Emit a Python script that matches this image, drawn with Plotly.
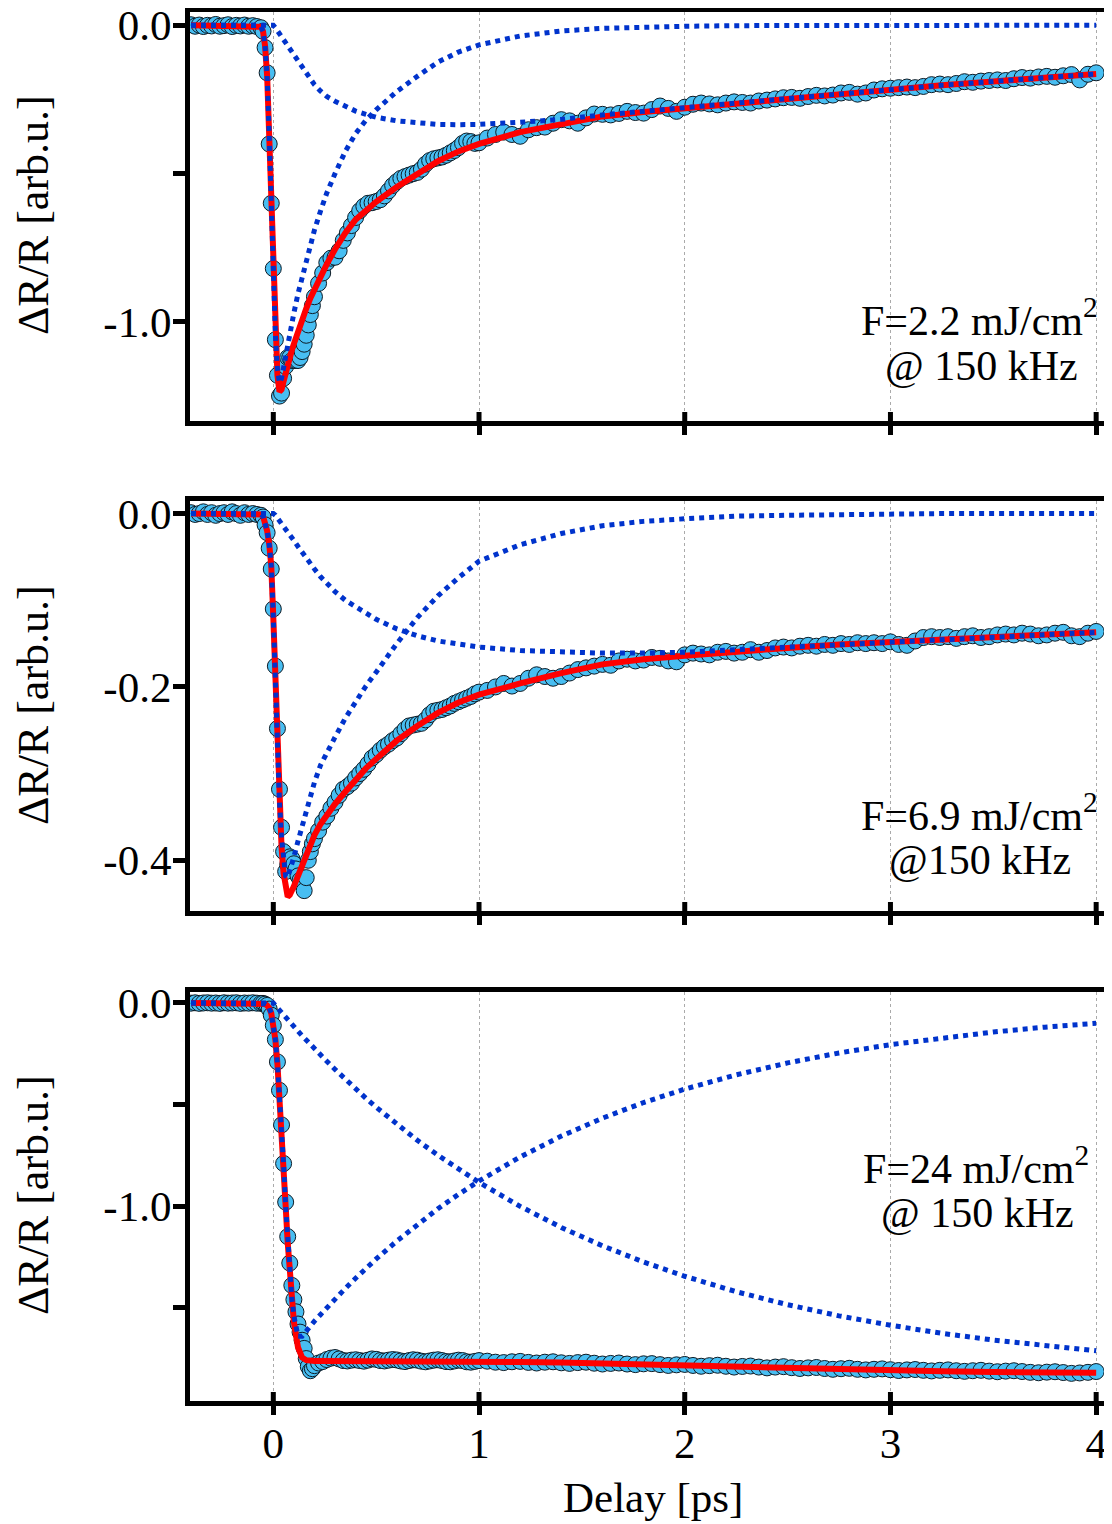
import plotly.graph_objects as go
from plotly.subplots import make_subplots

# pump-probe delay (ps) of the measured points, shared by the three panels
delay = [
    -0.40, -0.38, -0.36, -0.34, -0.32, -0.30, -0.28, -0.26, -0.24, -0.22,
    -0.20, -0.18, -0.16, -0.14, -0.12, -0.10, -0.08, -0.06,
    -0.05, -0.04, -0.03, -0.02, -0.01, 0.00, 0.01, 0.02, 0.03, 0.04,
    0.05, 0.06, 0.07, 0.08, 0.09, 0.10, 0.11, 0.12, 0.13, 0.14,
    0.15, 0.16, 0.17, 0.18, 0.19, 0.20,
    0.22, 0.24, 0.26, 0.28, 0.30, 0.32, 0.34, 0.36, 0.38, 0.40,
    0.42, 0.44, 0.46, 0.48, 0.50, 0.52, 0.54, 0.56, 0.58, 0.60,
    0.62, 0.64, 0.66, 0.68, 0.70, 0.72, 0.74, 0.76, 0.78, 0.80,
    0.82, 0.84, 0.86, 0.88, 0.90, 0.92, 0.94, 0.96, 0.98, 1.00,
    1.04, 1.08, 1.12, 1.16, 1.20, 1.24, 1.28, 1.32, 1.36, 1.40,
    1.44, 1.48, 1.52, 1.56, 1.60, 1.64, 1.68, 1.72, 1.76, 1.80,
    1.84, 1.88, 1.92, 1.96, 2.00, 2.04, 2.08, 2.12, 2.16, 2.20,
    2.24, 2.28, 2.32, 2.36, 2.40, 2.44, 2.48, 2.52, 2.56, 2.60,
    2.64, 2.68, 2.72, 2.76, 2.80, 2.84, 2.88, 2.92, 2.96, 3.00,
    3.04, 3.08, 3.12, 3.16, 3.20, 3.24, 3.28, 3.32, 3.36, 3.40,
    3.44, 3.48, 3.52, 3.56, 3.60, 3.64, 3.68, 3.72, 3.76, 3.80,
    3.84, 3.88, 3.92, 3.96, 4.00,
]

# measured dR/R, F = 2.2 mJ/cm2
data_22 = [
    0.002, -0.003, 0.001, -0.004, 0.000, -0.002, 0.003, -0.003, -0.001, 0.002,
    -0.004, 0.000, -0.002, 0.001, -0.003, -0.001, -0.004, -0.008,
    -0.02, -0.075, -0.16, -0.40, -0.60, -0.82, -1.06, -1.18, -1.25, -1.24,
    -1.19, -1.15, -1.12, -1.12, -1.13, -1.13, -1.13, -1.13, -1.12, -1.10,
    -1.075, -1.045, -1.01, -0.975, -0.945, -0.915,
    -0.87, -0.835, -0.80, -0.785, -0.782, -0.76, -0.725, -0.70, -0.675, -0.648,
    -0.625, -0.61, -0.60, -0.598, -0.594, -0.588, -0.575, -0.558, -0.54, -0.527,
    -0.516, -0.51, -0.505, -0.50, -0.496, -0.485, -0.468, -0.456, -0.45, -0.447,
    -0.444, -0.438, -0.43, -0.422, -0.412, -0.398, -0.39, -0.392, -0.398, -0.396,
    -0.380, -0.368, -0.360, -0.368, -0.374, -0.352, -0.345, -0.343, -0.330, -0.318,
    -0.322, -0.330, -0.312, -0.299, -0.300, -0.302, -0.297, -0.290, -0.294, -0.296,
    -0.284, -0.272, -0.280, -0.290, -0.276, -0.266, -0.262, -0.265, -0.268, -0.262,
    -0.258, -0.260, -0.262, -0.255, -0.252, -0.248, -0.244, -0.243, -0.246, -0.240,
    -0.236, -0.238, -0.235, -0.228, -0.226, -0.232, -0.228, -0.218, -0.214, -0.212,
    -0.210, -0.208, -0.210, -0.206, -0.200, -0.198, -0.200, -0.196, -0.190, -0.192,
    -0.188, -0.186, -0.184, -0.186, -0.180, -0.176, -0.178, -0.174, -0.172, -0.175,
    -0.170, -0.166, -0.184, -0.165, -0.160,
]

# measured dR/R, F = 6.9 mJ/cm2
data_69 = [
    0.001, -0.001, 0.000, 0.002, -0.001, 0.001, -0.002, 0.000, 0.001, -0.001,
    0.002, 0.000, -0.002, 0.001, -0.001, 0.000, -0.001, -0.002,
    -0.004, -0.013, -0.022, -0.040, -0.064, -0.11, -0.176, -0.248, -0.318, -0.362,
    -0.39, -0.413, -0.405, -0.396, -0.398, -0.404, -0.41, -0.418, -0.423, -0.428,
    -0.435, -0.42, -0.40, -0.39, -0.381, -0.375,
    -0.366, -0.356, -0.349, -0.340, -0.333, -0.325, -0.318, -0.315, -0.311, -0.305,
    -0.300, -0.295, -0.289, -0.282, -0.278, -0.273, -0.269, -0.266, -0.262, -0.259,
    -0.254, -0.249, -0.245, -0.244, -0.243, -0.242, -0.238, -0.232, -0.228, -0.227,
    -0.226, -0.224, -0.222, -0.219, -0.217, -0.215, -0.213, -0.211, -0.208, -0.206,
    -0.204, -0.200, -0.196, -0.199, -0.196, -0.190, -0.186, -0.188, -0.190, -0.188,
    -0.184, -0.180, -0.178, -0.176, -0.174, -0.175, -0.170, -0.168, -0.170, -0.169,
    -0.166, -0.167, -0.170, -0.171, -0.163, -0.161, -0.162, -0.163, -0.160, -0.159,
    -0.161, -0.160, -0.157, -0.160, -0.158, -0.155, -0.154, -0.155, -0.153, -0.152,
    -0.153, -0.151, -0.152, -0.150, -0.151, -0.149, -0.150, -0.149, -0.150, -0.148,
    -0.151, -0.152, -0.147, -0.143, -0.142, -0.143, -0.142, -0.144, -0.142, -0.141,
    -0.143, -0.142, -0.140, -0.139, -0.140, -0.138, -0.139, -0.141, -0.140, -0.138,
    -0.137, -0.141, -0.142, -0.138, -0.136,
]

# measured dR/R, F = 24 mJ/cm2
data_24 = [
    -0.001, 0.001, -0.002, 0.000, 0.001, -0.001, 0.000, -0.002, 0.001, -0.001,
    0.000, 0.001, -0.002, 0.000, -0.001, 0.001, -0.001, -0.002,
    -0.002, -0.006, -0.012, -0.03, -0.06, -0.11, -0.18, -0.29, -0.43, -0.60,
    -0.79, -0.98, -1.15, -1.28, -1.39, -1.46, -1.52, -1.58, -1.62, -1.66,
    -1.70, -1.75, -1.79, -1.81, -1.80, -1.785,
    -1.772, -1.765, -1.755, -1.748, -1.745, -1.752, -1.760, -1.762, -1.758, -1.756,
    -1.760, -1.763, -1.758, -1.752, -1.754, -1.760, -1.762, -1.758, -1.755, -1.757,
    -1.762, -1.765, -1.760, -1.756, -1.758, -1.763, -1.766, -1.762, -1.758, -1.756,
    -1.760, -1.765, -1.766, -1.762, -1.758, -1.760, -1.766, -1.768, -1.764, -1.760,
    -1.763, -1.768, -1.770, -1.766, -1.764, -1.769, -1.772, -1.768, -1.766, -1.771,
    -1.774, -1.770, -1.768, -1.773, -1.777, -1.774, -1.772, -1.777, -1.780, -1.776,
    -1.775, -1.780, -1.784, -1.781, -1.779, -1.784, -1.788, -1.785, -1.783, -1.788,
    -1.792, -1.789, -1.787, -1.792, -1.796, -1.792, -1.790, -1.795, -1.799, -1.796,
    -1.794, -1.799, -1.803, -1.800, -1.798, -1.803, -1.806, -1.803, -1.801, -1.805,
    -1.809, -1.806, -1.804, -1.808, -1.811, -1.808, -1.806, -1.810, -1.813, -1.810,
    -1.808, -1.812, -1.815, -1.812, -1.810, -1.814, -1.818, -1.820, -1.817, -1.815,
    -1.819, -1.823, -1.821, -1.818, -1.814,
]

# delay grid of the fit curves
fit_t = [
    -0.40, -0.08, -0.06, -0.05, -0.04, -0.03, -0.02, -0.01, 0.00, 0.01,
    0.02, 0.03, 0.04, 0.05, 0.06, 0.07, 0.08, 0.09, 0.10, 0.12,
    0.14, 0.16, 0.18, 0.20, 0.23, 0.26, 0.30, 0.35, 0.40, 0.45,
    0.50, 0.60, 0.70, 0.80, 0.90, 1.00, 1.20, 1.40, 1.60, 1.80,
    2.00, 2.25, 2.50, 2.75, 3.00, 3.25, 3.50, 3.75, 4.00,
]

fit_22 = [
    0.0, 0.0, -0.005, -0.02, -0.07, -0.17, -0.37, -0.60, -0.84, -1.05,
    -1.18, -1.235, -1.228, -1.20, -1.17, -1.145, -1.12, -1.095, -1.074, -1.03,
    -0.99, -0.955, -0.92, -0.89, -0.845, -0.805, -0.755, -0.70, -0.655, -0.622,
    -0.595, -0.545, -0.502, -0.458, -0.425, -0.40, -0.36, -0.332, -0.307, -0.292,
    -0.279, -0.263, -0.247, -0.232, -0.215, -0.202, -0.189, -0.176, -0.164,
]
fast_22 = [
    0.0, 0.0, -0.005, -0.02, -0.07, -0.17, -0.37, -0.60, -0.84, -1.04,
    -1.16, -1.205, -1.19, -1.15, -1.11, -1.075, -1.04, -1.005, -0.97, -0.905,
    -0.85, -0.795, -0.74, -0.69, -0.625, -0.565, -0.50, -0.425, -0.365, -0.32,
    -0.285, -0.223, -0.172, -0.124, -0.09, -0.066, -0.036, -0.019, -0.01, -0.005,
    -0.003, -0.001, 0.0, 0.0, 0.0, 0.0, 0.0, 0.0, 0.0,
]
slow_22 = [
    0.0, 0.0, 0.0, 0.0, 0.0, 0.0, 0.0, 0.0, 0.0, -0.008,
    -0.018, -0.028, -0.038, -0.05, -0.06, -0.07, -0.082, -0.093, -0.104, -0.125,
    -0.145, -0.165, -0.184, -0.20, -0.222, -0.24, -0.256, -0.274, -0.289, -0.30,
    -0.31, -0.322, -0.33, -0.334, -0.335, -0.334, -0.327, -0.317, -0.302, -0.289,
    -0.277, -0.262, -0.247, -0.232, -0.215, -0.202, -0.189, -0.176, -0.164,
]

fit_69 = [
    0.0, 0.0, -0.001, -0.003, -0.01, -0.02, -0.035, -0.06, -0.12, -0.20,
    -0.27, -0.34, -0.385, -0.415, -0.435, -0.442, -0.44, -0.436, -0.43, -0.418,
    -0.405, -0.392, -0.381, -0.371, -0.358, -0.347, -0.335, -0.321, -0.307, -0.294,
    -0.283, -0.262, -0.245, -0.23, -0.218, -0.209, -0.196, -0.184, -0.174, -0.168,
    -0.164, -0.159, -0.155, -0.151, -0.148, -0.145, -0.142, -0.139, -0.137,
]
fast_69 = [
    0.0, 0.0, -0.001, -0.003, -0.01, -0.02, -0.035, -0.06, -0.12, -0.198,
    -0.265, -0.332, -0.374, -0.40, -0.418, -0.42, -0.413, -0.405, -0.396, -0.378,
    -0.36, -0.341, -0.324, -0.31, -0.29, -0.275, -0.258, -0.236, -0.217, -0.199,
    -0.183, -0.150, -0.120, -0.095, -0.074, -0.055, -0.036, -0.023, -0.014, -0.009,
    -0.006, -0.003, -0.002, -0.001, 0.0, 0.0, 0.0, 0.0, 0.0,
]
slow_69 = [
    0.0, 0.0, 0.0, 0.0, 0.0, 0.0, 0.0, 0.0, 0.0, -0.002,
    -0.005, -0.008, -0.011, -0.014, -0.017, -0.02, -0.024, -0.027, -0.031, -0.038,
    -0.045, -0.051, -0.058, -0.064, -0.073, -0.081, -0.09, -0.10, -0.107, -0.115,
    -0.122, -0.133, -0.141, -0.147, -0.151, -0.154, -0.158, -0.160, -0.161, -0.161,
    -0.160, -0.157, -0.154, -0.151, -0.148, -0.145, -0.142, -0.139, -0.137,
]

fit_24 = [
    0.0, 0.0, -0.001, -0.002, -0.005, -0.012, -0.025, -0.05, -0.10, -0.18,
    -0.30, -0.45, -0.62, -0.80, -1.00, -1.18, -1.34, -1.47, -1.57, -1.695,
    -1.745, -1.758, -1.762, -1.762, -1.762, -1.762, -1.762, -1.762, -1.762, -1.762,
    -1.762, -1.763, -1.763, -1.764, -1.765, -1.765, -1.767, -1.770, -1.775, -1.780,
    -1.785, -1.792, -1.799, -1.805, -1.810, -1.813, -1.816, -1.818, -1.820,
]
fast_24 = [
    0.0, 0.0, -0.001, -0.002, -0.005, -0.012, -0.025, -0.05, -0.10, -0.18,
    -0.30, -0.45, -0.62, -0.80, -1.00, -1.18, -1.33, -1.45, -1.54, -1.64,
    -1.64, -1.612, -1.589, -1.566, -1.533, -1.50, -1.457, -1.405, -1.355, -1.306,
    -1.26, -1.172, -1.09, -1.013, -0.942, -0.876, -0.758, -0.655, -0.567, -0.49,
    -0.424, -0.354, -0.295, -0.246, -0.205, -0.171, -0.143, -0.119, -0.10,
]
slow_24 = [
    0.0, 0.0, 0.0, 0.0, 0.0, 0.0, 0.0, 0.0, 0.0, -0.012,
    -0.024, -0.036, -0.047, -0.059, -0.071, -0.082, -0.094, -0.105, -0.116, -0.139,
    -0.161, -0.182, -0.204, -0.225, -0.256, -0.287, -0.327, -0.376, -0.423, -0.469,
    -0.513, -0.597, -0.676, -0.749, -0.819, -0.883, -1.001, -1.105, -1.195, -1.275,
    -1.345, -1.421, -1.485, -1.54, -1.586, -1.626, -1.659, -1.688, -1.712,
]

fluence_lines = [
    ("F=2.2 mJ/cm<sup>2</sup>", "@ 150 kHz"),
    ("F=6.9 mJ/cm<sup>2</sup>", "@150 kHz"),
    ("F=24 mJ/cm<sup>2</sup>", "@ 150 kHz"),
]
ytick_vals = [[0, -1.0], [0, -0.2, -0.4], [0, -1.0]]
ytick_text = [["0.0", "-1.0"], ["0.0", "-0.2", "-0.4"], ["0.0", "-1.0"]]
yminor_vals = [[-0.5], [], [-0.5, -1.5]]
y_ranges = [[-1.334, 0.045], [-0.4585, 0.0145], [-1.959, 0.054]]
xtick_vals = [0, 1, 2, 3, 4]
x_range = [-0.405, 4.077]

# the page body adds an 8 px margin, so the figure is shifted by that much
OFF = 8
W, H = 1104, 1516
ML, MR, MT, MB = 182, 0, 4, 123
FONT = "Liberation Serif, Times New Roman, serif"


def paper_x(px):
    return (px - OFF - ML) / (W - ML - MR)


def paper_y(py):
    return (H - MB - (py - OFF)) / (H - MT - MB)


# positions in screen pixels
panel_px = [(12, 421), (501, 911), (992, 1401)]
label_px = [((979, 318), (981, 366)), ((979, 812), (980, 860)), ((976, 1165), (977, 1213))]
ytitle_py = [215, 705, 1195]

panels = [
    (data_22, fit_22, fast_22, slow_22),
    (data_69, fit_69, fast_69, slow_69),
    (data_24, fit_24, fast_24, slow_24),
]

fig = make_subplots(rows=3, cols=1)

for i, (dat, fit, fast, slow) in enumerate(panels):
    r = i + 1
    fig.add_trace(go.Scatter(
        x=delay, y=dat, mode="markers",
        marker=dict(size=16, color="#48BEF2", line=dict(color="#0d1a24", width=1)),
        showlegend=False), row=r, col=1)
    fig.add_trace(go.Scatter(
        x=fit_t, y=fit, mode="lines",
        line=dict(color="#FF0000", width=6), showlegend=False), row=r, col=1)
    for comp in (slow, fast):
        fig.add_trace(go.Scatter(
            x=fit_t, y=comp, mode="lines",
            line=dict(color="#0033CC", width=5, dash="dot"), showlegend=False),
            row=r, col=1)

    top, bot = panel_px[i]
    xa = "xaxis" if r == 1 else f"xaxis{r}"
    ya = "yaxis" if r == 1 else f"yaxis{r}"
    fig.layout[xa].update(
        range=x_range, tickvals=xtick_vals, showticklabels=(r == 3),
        ticks="outside", ticklen=9, tickwidth=5, tickcolor="black",
        showline=True, linewidth=5, linecolor="black", mirror=True,
        showgrid=True, gridcolor="#aaaaaa", griddash="dot", gridwidth=1,
        zeroline=False, ticklabelstandoff=-9, automargin=False,
        ticklabeloverflow="allow",
        tickfont=dict(family=FONT, size=43, color="black"),
    )
    fig.layout[ya].update(
        domain=[paper_y(bot), paper_y(top)], range=y_ranges[i],
        tickmode="array", tickvals=ytick_vals[i], ticktext=ytick_text[i],
        ticks="outside", ticklen=12, tickwidth=5, tickcolor="black",
        showline=True, linewidth=5, linecolor="black",
        showgrid=False, zeroline=False, ticklabelstandoff=-7, automargin=False,
        ticklabeloverflow="allow",
        tickfont=dict(family=FONT, size=43, color="black"),
    )
    if yminor_vals[i]:
        fig.layout[ya].minor = dict(
            tickmode="array", tickvals=yminor_vals[i], ticks="outside",
            ticklen=12, tickwidth=5, tickcolor="black", showgrid=False)
    # inner half of the crossing x ticks
    xr = "x" if r == 1 else f"x{r}"
    yr = "y" if r == 1 else f"y{r}"
    for t in xtick_vals:
        fig.add_shape(type="line", xref=xr, yref=f"{yr} domain",
                      x0=t, x1=t, ysizemode="pixel", yanchor=0, y0=0, y1=9,
                      line=dict(color="black", width=5))

    for text, (lx, ly) in zip(fluence_lines[i], label_px[i]):
        fig.add_annotation(
            text=text, xref="paper", yref="paper",
            x=paper_x(lx), y=paper_y(ly),
            showarrow=False, xanchor="center", yanchor="middle",
            font=dict(family=FONT, size=42, color="black"))
    fig.add_annotation(
        text="ΔR/R [arb.u.]", xref="paper", yref="paper",
        x=paper_x(33), y=paper_y(ytitle_py[i]), textangle=-90,
        showarrow=False, xanchor="center", yanchor="middle",
        font=dict(family=FONT, size=44, color="black"))

fig.add_annotation(
    text="Delay [ps]", xref="paper", yref="paper",
    x=paper_x(653), y=paper_y(1497), showarrow=False,
    xanchor="center", yanchor="middle",
    font=dict(family=FONT, size=43, color="black"))

fig.update_layout(
    width=W, height=H,
    margin=dict(l=ML, r=MR, t=MT, b=MB),
    plot_bgcolor="white", paper_bgcolor="white",
    showlegend=False,
)

fig.write_html("out.html")
